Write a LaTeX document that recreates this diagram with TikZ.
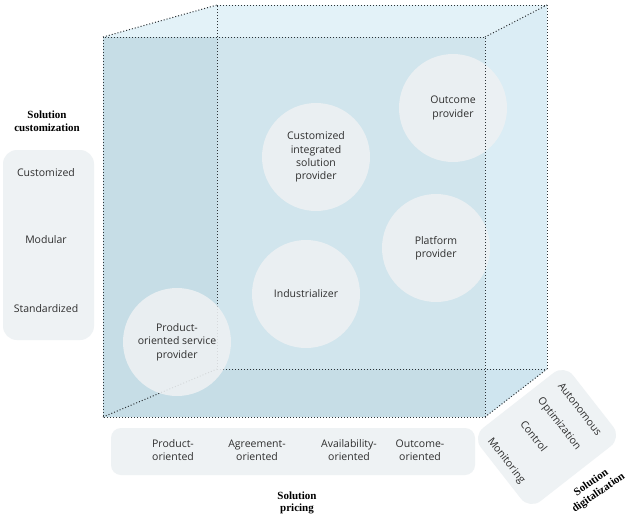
\documentclass[tikz,border=0pt]{standalone}
\usepackage{fontspec}
\setmainfont{Liberation Serif}
\newfontfamily\boxfont{Open Sans}
\usepackage{tikz}
\definecolor{CubeTop}{HTML}{E3F2F8}
\definecolor{CubeSide}{HTML}{DBEDF5}
\definecolor{CubeFront}{HTML}{D1E5ED}
\definecolor{CubeDark}{HTML}{C6DDE6}
\definecolor{CubeCorner}{HTML}{CFE5EF}
\definecolor{BubbleGray}{HTML}{EEF1F3}
\definecolor{PanelGray}{HTML}{EEF2F4}
\definecolor{EdgeGray}{HTML}{2C3236}
\definecolor{TxtGray}{HTML}{2E2E2E}

\begin{document}
\begin{tikzpicture}[x=1pt, y=-1pt,
          prov/.style={circle, fill=BubbleGray, fill opacity=0.88, text opacity=1,
                       minimum size=108pt, inner sep=0pt, align=center,
                       text=TxtGray, font=\boxfont\fontsize{10.5}{13.3}\selectfont},
          lvl/.style={align=center, inner sep=0pt, text=TxtGray,
                      font=\boxfont\fontsize{10.5}{13.3}\selectfont},
          panel/.style={rectangle, rounded corners=14pt, fill=PanelGray, inner sep=0pt},
          axlbl/.style={align=center, inner sep=0pt,
                        font=\bfseries\fontsize{11}{12.5}\selectfont},
          edge/.style={draw=EdgeGray, line width=1pt, dash pattern=on 1pt off 2pt}
        ]
        \useasboundingbox[fill=white] (0,0) rectangle (627,517);

        % cube corners: front face f*, back face b*
        \coordinate (f1) at (103,37);
        \coordinate (f2) at (485,37);
        \coordinate (f3) at (485,417);
        \coordinate (f4) at (103,417);
        \coordinate (b1) at (217,5);
        \coordinate (b2) at (547,5);
        \coordinate (b3) at (547,369);
        \coordinate (b4) at (217,369);

        \fill[CubeTop]    (f1) -- (b1) -- (b2) -- (f2) -- cycle;
        \fill[CubeSide]   (f2) -- (b2) -- (b3) -- (f3) -- cycle;
        \fill[CubeFront]  (f1) rectangle (f3);
        \fill[CubeDark]   (f1) -- (b1 |- f1) -- (b4) -- (f3 |- b4) -- (f3) -- (f4) -- cycle;
        \fill[CubeCorner] (f3 |- b4) -- (b3) -- (f3) -- cycle;

        % hidden edges
        \draw[edge] (b1) -- (b2) -- (b3) -- (b4) -- cycle;
        \foreach \i in {1,...,4} {
          \draw[edge] (f\i) -- (b\i);
        }

        % archetypes
        \node[prov] (outc) at (453,108) {Outcome\\provider};
        \node[prov] (cisp) at (316,157) {Customized\\integrated\\solution\\provider};
        \node[prov] (plat) at (436,248) {Platform\\provider};
        \node[prov] (indu) at (306,294) {Industrializer};
        \node[prov] (posp) at (177,342) {Product-\\oriented service\\provider};

        % front face
        \draw[edge] (f1) rectangle (f3);

        % customization axis
        \node[panel, minimum width=91pt, minimum height=190pt] (cust) at (48.5,245) {};
        \node[lvl] (cst1) at (46,173) {Customized};
        \node[lvl] (cst2) at (46,240) {Modular};
        \node[lvl] (cst3) at (46,309) {Standardized};
        \node[axlbl] (custlbl) at (47,121) {Solution\\customization};

        % pricing axis
        \node[panel, rounded corners=10pt, minimum width=364pt, minimum height=47pt]
              (pric) at (293,451.5) {};
        \node[lvl] (prc1) at (173,450) {Product-\\oriented};
        \node[lvl] (prc2) at (257,450) {Agreement-\\oriented};
        \node[lvl] (prc3) at (349,450) {Availability-\\oriented};
        \node[lvl] (prc4) at (420,450) {Outcome-\\oriented};
        \node[axlbl] (priclbl) at (297,503) {Solution\\pricing};

        % digitalization axis
        \node[panel, rotate=38, minimum width=117pt, minimum height=93pt]
              (digi) at (547,437) {};
        \node[lvl, rotate=-52] (dig4) at (580,409) {Autonomous};
        \node[lvl, rotate=-52] (dig3) at (559,424) {Optimization};
        \node[lvl, rotate=-52] (dig2) at (534,436) {Control};
        \node[lvl, rotate=-52] (dig1) at (506,461) {Monitoring};
        \node[axlbl, rotate=35] (digilbl) at (595,488) {Solution\\digitalization};
      \end{tikzpicture}
\end{document}
